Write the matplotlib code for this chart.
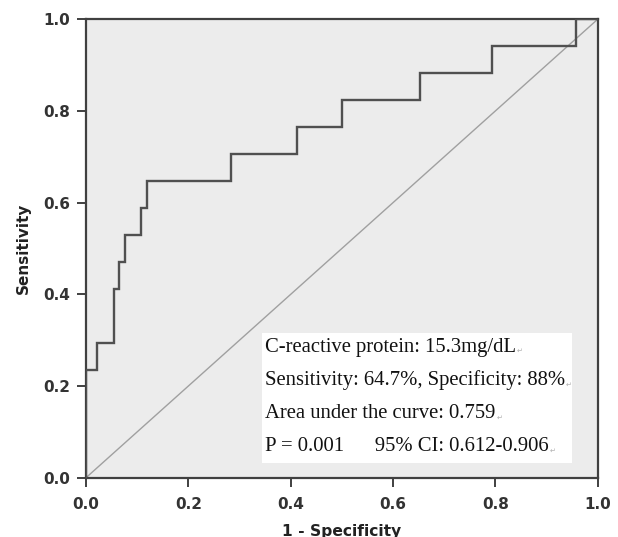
import matplotlib
matplotlib.use("Agg")
import matplotlib.pyplot as plt

# ROC step points (1 - specificity, sensitivity)
fpr = [0.0, 0.0, 0.021, 0.021, 0.054, 0.054, 0.065, 0.065, 0.076, 0.076,
       0.108, 0.108, 0.120, 0.120, 0.283, 0.283, 0.412, 0.412, 0.500, 0.500,
       0.653, 0.653, 0.794, 0.794, 0.957, 0.957, 1.0]
tpr = [0.0, 0.235, 0.235, 0.294, 0.294, 0.412, 0.412, 0.471, 0.471, 0.529,
       0.529, 0.588, 0.588, 0.647, 0.647, 0.706, 0.706, 0.765, 0.765, 0.824,
       0.824, 0.882, 0.882, 0.941, 0.941, 1.0, 1.0]
ticks = [0.0, 0.2, 0.4, 0.6, 0.8, 1.0]
tick_labels = ["0.0", "0.2", "0.4", "0.6", "0.8", "1.0"]
info_lines = [
    "C-reactive protein: 15.3mg/dL",
    "Sensitivity: 64.7%, Specificity: 88%",
    "Area under the curve: 0.759",
    "P = 0.001      95% CI: 0.612-0.906",
]

fig = plt.figure(figsize=(6.18, 5.37), dpi=100)
ax = fig.add_axes([0.1392, 0.1104, 0.8278, 0.8536])
ax.set_facecolor("#ececec")

ax.plot([0, 1], [0, 1], color="#a0a0a0", lw=1.0, zorder=2)
ax.plot(fpr, tpr, color="#505050", lw=1.7, zorder=3, solid_joinstyle="miter")

ax.set_xlim(0, 1)
ax.set_ylim(0, 1)
ax.set_xticks(ticks)
ax.set_xticklabels(tick_labels)
ax.set_yticks(ticks)
ax.set_yticklabels(tick_labels)
for s in ax.spines.values():
    s.set_color("#404040")
    s.set_linewidth(1.6)
ax.tick_params(direction="out", length=6.2, width=1.4, color="#404040",
               labelsize=11, labelcolor="#333333")
ax.tick_params(axis="x", pad=8)
ax.tick_params(axis="y", pad=5)
for lab in ax.get_xticklabels() + ax.get_yticklabels():
    lab.set_fontfamily("DejaVu Sans")
    lab.set_fontweight("bold")

ax.set_xlabel("1 - Specificity", fontsize=11.2, fontweight="bold",
              family="DejaVu Sans", labelpad=8, color="#222222")
ax.set_ylabel("Sensitivity", fontsize=11, fontweight="bold",
              family="DejaVu Sans", labelpad=9, color="#222222")

# white info box
x0 = (261.7 - 86) / 511.6
x1 = (571.7 - 86) / 511.6
y0 = (477.7 - 462.7) / 458.4
y1 = (477.7 - 332.7) / 458.4
ax.add_patch(plt.Rectangle((x0, y0), x1 - x0, y1 - y0, facecolor="white",
                           edgecolor="none", zorder=4))
line_y = [347.0, 380.5, 413.5, 446.5]
texts = []
for txt, py in zip(info_lines, line_y):
    t = ax.text((265 - 86) / 511.6, (477.7 - py) / 458.4, txt, fontsize=14.9,
                family="Liberation Serif", va="center", ha="left",
                color="#111111", zorder=5)
    texts.append(t)

fig.canvas.draw()
inv = ax.transAxes.inverted()
for t in texts:
    bb = t.get_window_extent()
    xr, yb = inv.transform((bb.x1 + 1, bb.y0 + bb.height * 0.3))
    ax.text(xr, yb, "\u21b5", fontsize=5, family="DejaVu Sans", color="#b0b0b0",
            ha="left", va="center", zorder=5)

fig.savefig("out.png", dpi=100)
